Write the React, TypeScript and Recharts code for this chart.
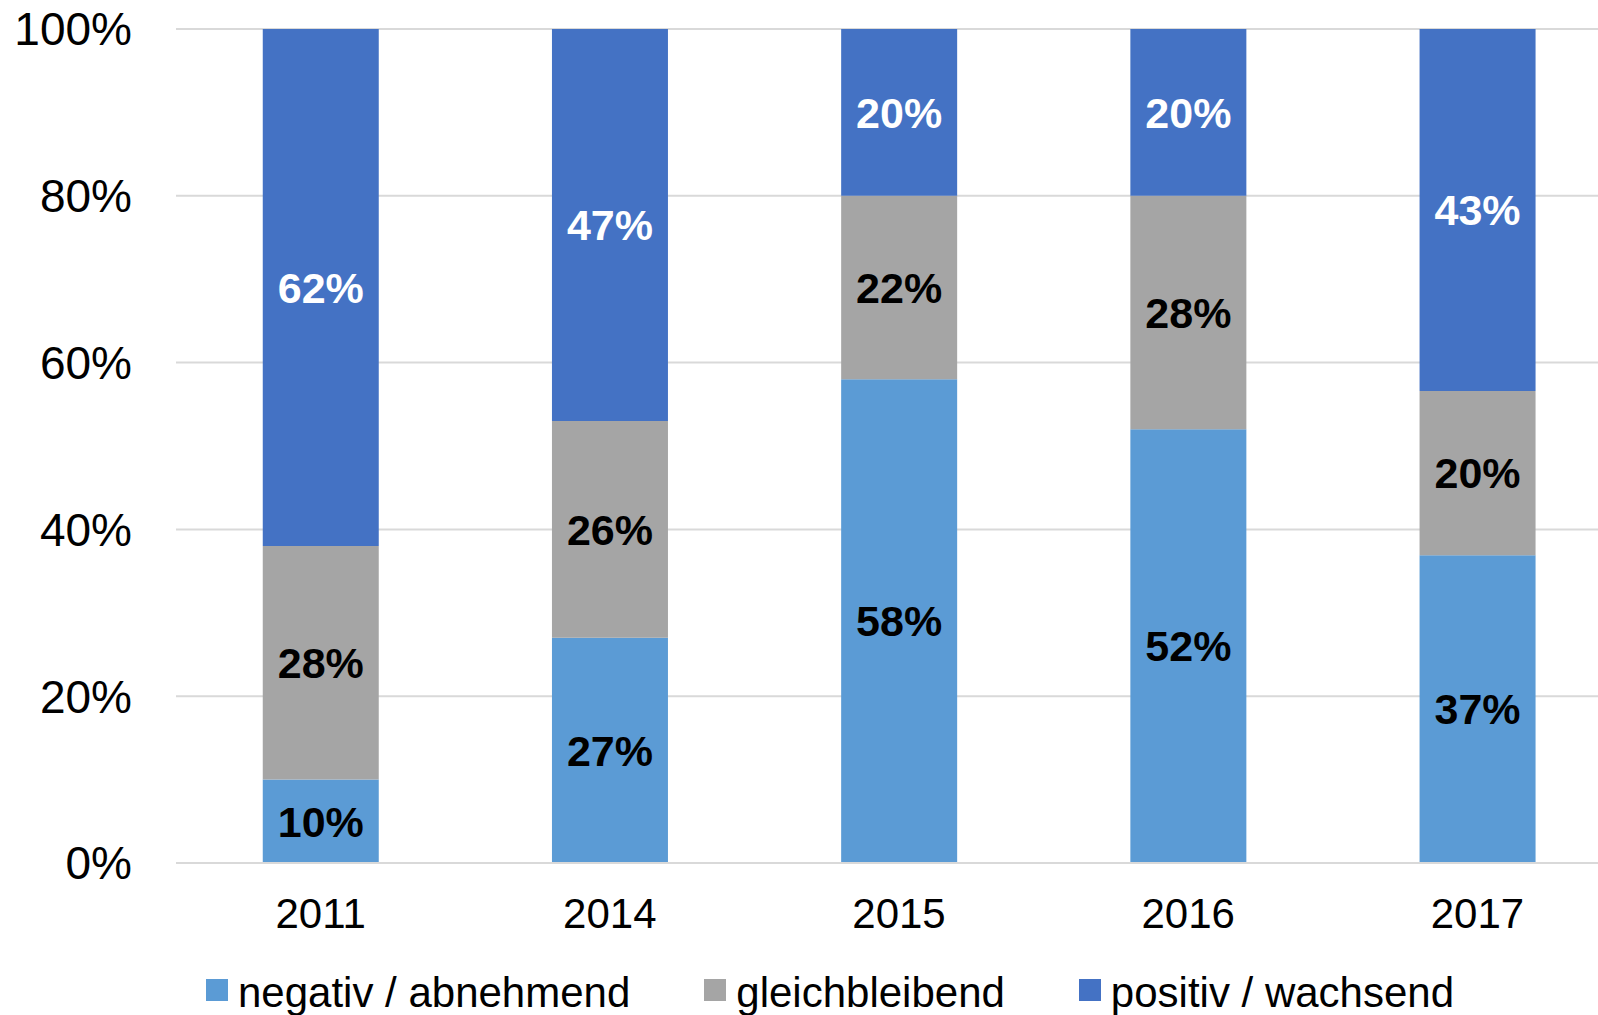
import { Bar, BarChart, CartesianGrid, LabelList, Legend, XAxis, YAxis } from "recharts";

const YEARS = ["2011", "2014", "2015", "2016", "2017"];
const NEGATIV = [10, 27, 58, 52, 36.9];
const GLEICH = [28, 26, 22, 28, 19.7];
const POSITIV = [62, 47, 20, 20, 43.4];
const Y_TICKS = [0, 20, 40, 60, 80, 100];

const SERIES = [
  { key: "negativ", label: "negativ / abnehmend", color: "#5B9BD5", text: "#000000" },
  { key: "gleich", label: "gleichbleibend", color: "#A5A5A5", text: "#000000" },
  { key: "positiv", label: "positiv / wachsend", color: "#4472C4", text: "#FFFFFF" },
];

const FONT = '"Liberation Sans", Arial, sans-serif';

const data = YEARS.map((year, i) => ({
  year,
  negativ: NEGATIV[i],
  gleich: GLEICH[i],
  positiv: POSITIV[i],
}));

function LegendRow() {
  return (
    <div
      style={{
        height: 50,
        display: "flex",
        alignItems: "center",
        paddingLeft: 206,
        gap: 74,
        fontFamily: FONT,
        fontSize: 42,
        lineHeight: 1,
        color: "#000",
      }}
    >
      {SERIES.map((s) => (
        <span key={s.key} style={{ display: "flex", alignItems: "center", gap: 10 }}>
          <span style={{ width: 22, height: 22, background: s.color, display: "inline-block" }} />
          <span style={{ position: "relative", top: 3 }}>{s.label}</span>
        </span>
      ))}
    </div>
  );
}

export default function App() {
  return (
    <div
      style={{
        position: "absolute",
        left: 0,
        top: 0,
        width: 1598,
        height: 1015,
        overflow: "hidden",
        background: "#fff",
        fontFamily: FONT,
      }}
    >
      <BarChart
        width={1650}
        height={1015}
        data={data}
        barCategoryGap="30%"
        margin={{ top: 29, right: 28, bottom: 0, left: 0 }}
      >
        <CartesianGrid stroke="#D9D9D9" strokeWidth={2} vertical={false} />
        <XAxis
          dataKey="year"
          height={102}
          tickLine={false}
          tickSize={0}
          tickMargin={35}
          axisLine={{ stroke: "#D9D9D9", strokeWidth: 2 }}
          tick={{ fill: "#000", fontSize: 42 }}
        />
        <YAxis
          width={176}
          domain={[0, 100]}
          ticks={Y_TICKS}
          axisLine={false}
          tickLine={false}
          tickSize={0}
          tickMargin={44}
          tick={{ fill: "#000", fontSize: 46 }}
          tickFormatter={(v: number) => `${v}%`}
        />
        <Legend verticalAlign="bottom" content={() => <LegendRow />} />
        {SERIES.map((s) => (
          <Bar key={s.key} dataKey={s.key} stackId="a" fill={s.color} isAnimationActive={false}>
            <LabelList
              dataKey={s.key}
              position="center"
              fill={s.text}
              fontSize={43}
              fontWeight="bold"
              formatter={(v: number) => `${Math.round(v)}%`}
            />
          </Bar>
        ))}
      </BarChart>
    </div>
  );
}
